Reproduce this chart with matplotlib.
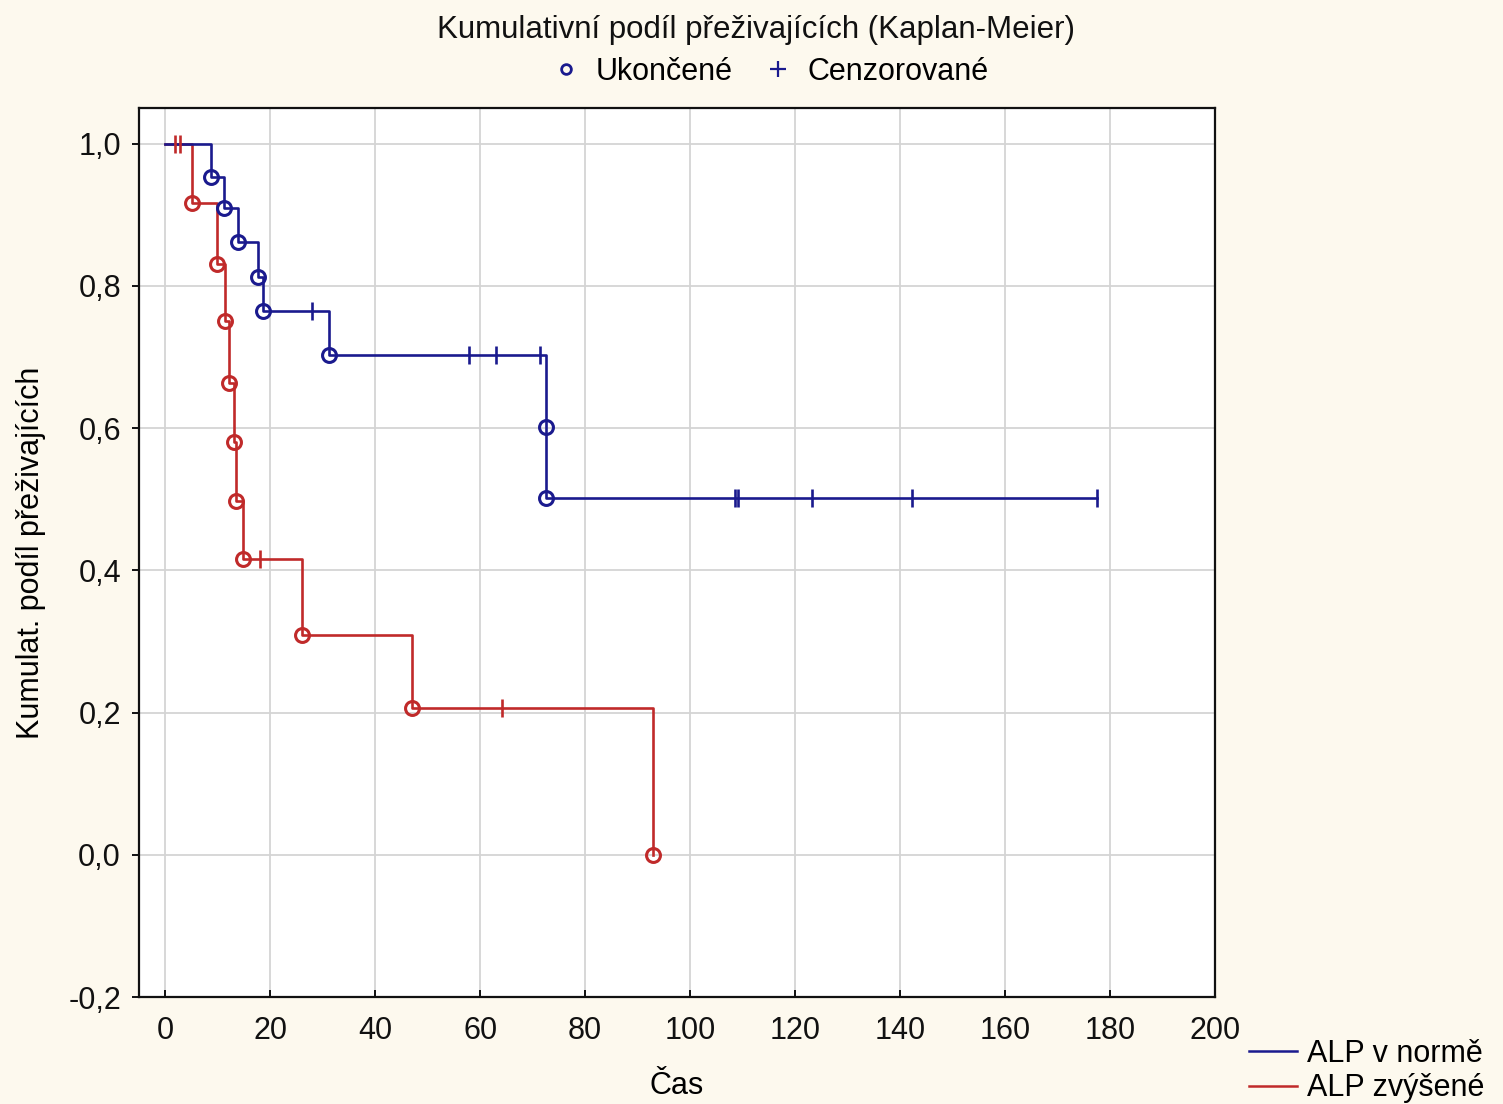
import numpy as np
import matplotlib
matplotlib.use("Agg")
import matplotlib.pyplot as plt
from matplotlib.lines import Line2D

plt.rcParams['font.family'] = ['Liberation Sans', 'DejaVu Sans']

# ---- data ----
blue_event_times = [8.7, 11.1, 13.9, 17.7, 18.7, 31.2, 72.5, 72.5]
blue_survival = [0.953, 0.910, 0.862, 0.813, 0.764, 0.703, 0.602, 0.502]
blue_censor_times = [27.9, 57.9, 63.1, 71.4, 108.5, 109.2, 123.3, 142.3, 177.6]

red_event_times = [5.1, 9.8, 11.3, 12.2, 13.0, 13.4, 14.8, 26.0, 47.0, 93.0]
red_survival = [0.917, 0.831, 0.750, 0.664, 0.581, 0.497, 0.416, 0.309, 0.207, 0.0]
red_censor_times = [1.9, 2.8, 18.1, 64.1]

group_labels = ["ALP v normě", "ALP zvýšené"]
marker_labels = ["Ukončené", "Cenzorované"]
x_ticks = [0, 20, 40, 60, 80, 100, 120, 140, 160, 180, 200]
y_ticks = [-0.2, 0.0, 0.2, 0.4, 0.6, 0.8, 1.0]

BLUE = "#1a1a8e"
RED = "#c02a2a"
BG = "#fdf9ee"
FS = 22

fig = plt.figure(figsize=(15.03, 11.04), dpi=100, facecolor=BG)
ax = fig.add_axes([0.0925, 0.0969, 0.7159, 0.8053])
ax.set_facecolor("white")


def surv_at(t, times, surv):
    idx = np.searchsorted(np.asarray(times), t, side="right")
    return 1.0 if idx == 0 else surv[idx - 1]


def draw(times, surv, ctimes, color):
    end = max(max(times), max(ctimes))
    xs = [0.0] + list(times) + [end]
    ys = [1.0] + list(surv) + [surv[-1]]
    ax.step(xs, ys, where="post", color=color, lw=1.9, zorder=3)
    ax.plot(times, surv, linestyle="none", marker="o", ms=10, mfc="none",
            mec=color, mew=2.2, zorder=4)
    cy = [surv_at(t, times, surv) for t in ctimes]
    ax.plot(ctimes, cy, linestyle="none", marker="|", ms=13, mew=1.9,
            color=color, zorder=4)


draw(red_event_times, red_survival, red_censor_times, RED)
draw(blue_event_times, blue_survival, blue_censor_times, BLUE)

ax.set_xlim(-5, 200)
ax.set_ylim(-0.2, 1.05)
ax.set_xticks(x_ticks)
ax.set_yticks(y_ticks)
ax.set_xticklabels([str(v) for v in x_ticks])
ax.set_yticklabels([f"{v:.1f}".replace(".", ",") for v in y_ticks])
ax.grid(True, color="#d4d4d4", lw=1.3)
ax.set_axisbelow(True)
for s in ax.spines.values():
    s.set_linewidth(1.6)
    s.set_color("#111111")
ax.tick_params(axis="both", labelsize=FS, length=5, width=1.4, colors="#111111")
ax.tick_params(axis="x", direction="in", pad=14)
ax.tick_params(axis="y", direction="out", pad=8)

ax.set_xlabel("Čas", fontsize=FS, labelpad=18)
ax.set_ylabel("Kumulat. podíl přeživajících", fontsize=FS, labelpad=16)

fig.text(0.503, 0.973, "Kumulativní podíl přeživajících (Kaplan-Meier)",
         ha="center", va="center", fontsize=22.5, color="#111111")

top_handles = [
    Line2D([], [], linestyle="none", marker="o", ms=7, mfc="none", mec=BLUE, mew=2.0),
    Line2D([], [], linestyle="none", marker="+", ms=11, color=BLUE, mew=1.6),
]
fig.legend(top_handles, marker_labels, loc="center", bbox_to_anchor=(0.511, 0.935),
           ncol=2, frameon=False, fontsize=FS, handletextpad=0.35, columnspacing=0.9,
           handlelength=1.2)

grp_handles = [Line2D([], [], color=BLUE, lw=1.8), Line2D([], [], color=RED, lw=1.8)]
fig.legend(grp_handles, group_labels, loc="lower right", bbox_to_anchor=(1.0, -0.016),
           frameon=False, fontsize=FS, handlelength=1.55, handletextpad=0.35,
           labelspacing=0.15, borderaxespad=0.2)

fig.savefig("out.png", dpi=100, facecolor=BG)
